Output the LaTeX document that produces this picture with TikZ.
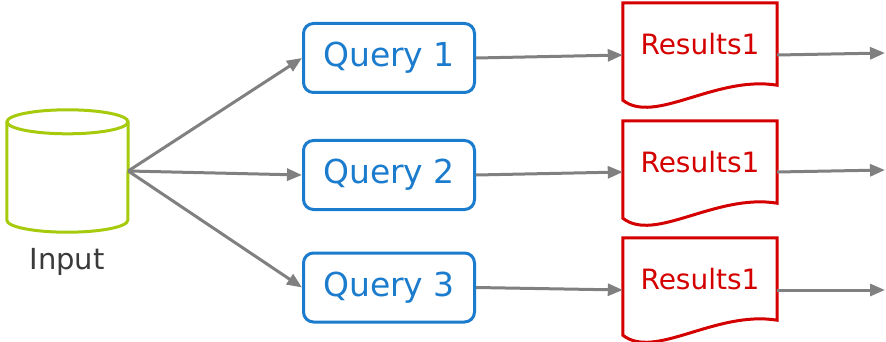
\documentclass[tikz,border=0pt]{standalone}
\usepackage{fontspec}
\setmainfont{DejaVu Sans}
\usetikzlibrary{calc,arrows.meta}
\definecolor{inGreen}{HTML}{A6CA0C}
\definecolor{qBlue}{HTML}{1B7BCC}
\definecolor{resRed}{HTML}{D40000}
\definecolor{lineGray}{HTML}{808080}
\definecolor{txtGray}{HTML}{3A3A3A}

\begin{document}
\begin{tikzpicture}[x=1pt,y=-1pt]
%styles
\tikzstyle{dbase}=[rectangle, minimum width=121pt, minimum height=122pt, inner sep=0pt]
\tikzstyle{dbline}=[draw=inGreen, line width=3pt]
\tikzstyle{textLine}=[rectangle, text=txtGray, font=\fontsize{29}{32}\selectfont]
\tikzstyle{query}=[rectangle, draw=qBlue, text=qBlue, line width=3pt, rounded corners=10pt, minimum width=171pt, minimum height=69pt, font=\fontsize{33}{36}\selectfont]
\tikzstyle{result}=[rectangle, text=resRed, minimum width=154pt, minimum height=82pt, font=\fontsize{28}{31}\selectfont]
\tikzstyle{docline}=[draw=resRed, line width=3pt, line join=miter]
\tikzstyle{flow}=[-{Triangle[length=15pt,width=12pt]}, draw=lineGray, line width=3pt]

\useasboundingbox (0,0) rectangle (886,342);

%figure
\node[dbase] (in) at (67.5,171) {};
\draw[dbline] ($(in.north west)+(0,12)$) -- ($(in.south west)+(0,-12)$)
  arc[start angle=180, end angle=0, x radius=60.5, y radius=12] -- ($(in.north east)+(0,12)$);
\draw[dbline] ($(in.north)+(0,12)$) ellipse[x radius=60.5, y radius=12];
\node[textLine] (inlabel) at (67,262) {Input};

\node[query] (q1) at (389,58) {Query 1};
\node[query] (q2) at (389,175) {Query 2};
\node[query] (q3) at (389,287.5) {Query 3};

\node[result] (r1) at (700,44) {Results1};
\node[result] (r2) at (700,162) {Results1};
\node[result] (r3) at (700,279) {Results1};

%document outlines
\foreach \i in {1,2,3}{
\draw[docline] (r\i.north west) -- (r\i.north east) -- (r\i.south east)
  .. controls ($(r\i.south east)+(-62,-10)$) and ($(r\i.south west)+(32,40)$) .. ($(r\i.south west)+(0,15)$) -- cycle;
}

\coordinate (o1) at (885,53);
\coordinate (o2) at (885,170);
\coordinate (o3) at (885,290);

%arrows
\draw[flow] (in.east) -- (q1.west);
\draw[flow] (in.east) -- (q2.west);
\draw[flow] (in.east) -- (q3.west);

\draw[flow] (q1.east) -- ([yshift=-11pt]r1.west);
\draw[flow] (q2.east) -- ([yshift=-10pt]r2.west);
\draw[flow] (q3.east) -- ([yshift=-11pt]r3.west);

\draw[flow] ([yshift=-11pt]r1.east) -- (o1);
\draw[flow] ([yshift=-10pt]r2.east) -- (o2);
\draw[flow] ([yshift=-11pt]r3.east) -- (o3);

\end{tikzpicture}
\end{document}
